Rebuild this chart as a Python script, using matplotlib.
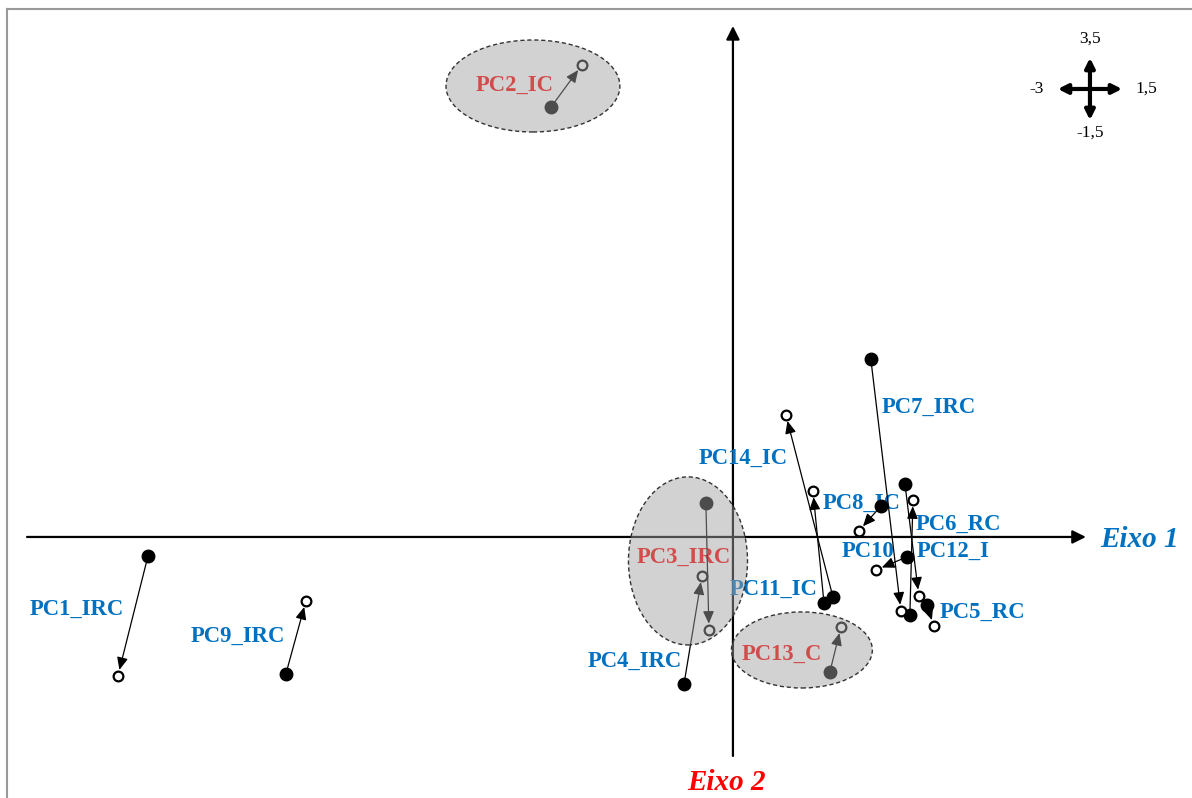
"""Trajectory diagram on the Eixo 1 / Eixo 2 plane (PC1..PC14, filled -> open)."""

import matplotlib
matplotlib.use('Agg')
import matplotlib.pyplot as plt
from matplotlib.patches import Ellipse

# start (filled) and end (open) positions on Eixo 1 / Eixo 2
NAMES = ['PC1_IRC', 'PC9_IRC', 'PC2_IC', 'PC3_IRC', 'PC4_IRC', 'PC13_C',
         'PC14_IC', 'PC11_IC', 'PC7_IRC', 'PC8_IC', 'PC6_RC', 'PC12_I',
         'PC10', 'PC5_RC']
X0 = [-2.486, -1.900, -0.773, -0.115, -0.208, 0.412,
      0.425, 0.387, 0.586, 0.629, 0.731, 0.752, 0.739, 0.824]
Y0 = [-0.130, -0.938, 2.945, 0.233, -1.007, -0.925,
      -0.411, -0.452, 1.219, 0.212, 0.363, -0.534, -0.137, -0.466]
X1 = [-2.614, -1.815, -0.642, -0.102, -0.132, 0.459,
      0.225, 0.340, 0.714, 0.535, 0.790, 0.765, 0.608, 0.854]
Y1 = [-0.952, -0.438, 3.233, -0.637, -0.267, -0.616,
      0.836, 0.315, -0.507, 0.041, -0.404, 0.253, -0.226, -0.610]

# label anchors (left, baseline)
LAB_X = [-2.988, -2.303, -1.092, -0.408, -0.616, 0.038,
         -0.144, -0.013, 0.633, 0.382, 0.778, 0.782, 0.463, 0.880]
LAB_Y = [-0.531, -0.716, 3.058, -0.175, -0.889, -0.840,
         0.500, -0.394, 0.853, 0.195, 0.051, -0.134, -0.134, -0.555]
RED_LABELS = {'PC2_IC', 'PC3_IRC', 'PC13_C'}

# grouping ellipses: centre x, centre y, width, height
ELL_X = [-0.850, -0.191, 0.293]
ELL_Y = [3.089, -0.164, -0.774]
ELL_W = [0.739, 0.506, 0.599]
ELL_H = [0.630, 1.151, 0.521]

AXIS_X = (-3.0, 1.5)
AXIS_Y = (-1.5, 3.5)
COMPASS = ['3,5', '-3', '1,5', '-1,5']

BLUE = '#0070C0'
SERIF = ['Liberation Serif', 'DejaVu Serif']

fig = plt.figure(figsize=(11.92, 7.98), dpi=100)
ax = fig.add_axes([0, 0, 1, 1])
ax.set_xlim(-3.115, 1.951)
ax.set_ylim(-1.788, 3.678)
ax.axis('off')

# frame (top + left only)
fig.add_artist(plt.Line2D([0.006, 1.0], [0.989, 0.989], color='#999999', lw=1.5))
fig.add_artist(plt.Line2D([0.006, 0.006], [0.0, 0.989], color='#999999', lw=1.5))

# main axes with arrow heads
ax.annotate('', xy=(AXIS_X[1], 0), xytext=(AXIS_X[0], 0),
            arrowprops=dict(arrowstyle='-|>', lw=1.6, color='k',
                            mutation_scale=20, shrinkA=0, shrinkB=0), zorder=1)
ax.annotate('', xy=(0, AXIS_Y[1]), xytext=(0, AXIS_Y[0]),
            arrowprops=dict(arrowstyle='-|>', lw=1.6, color='k',
                            mutation_scale=20, shrinkA=0, shrinkB=0), zorder=1)
ax.text(1.560, -0.068, 'Eixo 1', color=BLUE, fontsize=21, fontweight='bold',
        fontstyle='italic', family=SERIF, ha='left', va='baseline')
ax.text(-0.195, -1.733, 'Eixo 2', color='red', fontsize=21, fontweight='bold',
        fontstyle='italic', family=SERIF, ha='left', va='baseline')

# labels
for name, lx, ly in zip(NAMES, LAB_X, LAB_Y):
    c = 'red' if name in RED_LABELS else BLUE
    ax.text(lx, ly, name, color=c, fontsize=16.3, fontweight='bold',
            family=SERIF, ha='left', va='baseline', zorder=2)

# trajectories
for x0, y0, x1, y1 in zip(X0, Y0, X1, Y1):
    ax.annotate('', xy=(x1, y1), xytext=(x0, y0),
                arrowprops=dict(arrowstyle='-|>,head_length=0.5,head_width=0.22',
                                lw=0.9, color='k',
                                mutation_scale=15, shrinkA=0, shrinkB=4.5),
                zorder=3)
ax.plot(X0, Y0, 'o', ms=9, color='k', zorder=4, ls='none')
ax.plot(X1, Y1, 'o', ms=7, mfc='white', mec='k', mew=1.6, zorder=4, ls='none')

# semi-transparent grouping ellipses drawn over everything
for ex, ey, ew, eh in zip(ELL_X, ELL_Y, ELL_W, ELL_H):
    ax.add_patch(Ellipse((ex, ey), ew, eh, facecolor=(0.635, 0.635, 0.635, 0.475),
                         edgecolor='#333333', lw=1.0, ls=(0, (3, 2)), zorder=6))

# orientation compass (top right)
cx, cy, dx, dy = 0.9144, 0.8885, 0.027, 0.039
for tx, ty in [(cx, cy + dy), (cx - dx, cy), (cx + dx, cy), (cx, cy - dy)]:
    ax.annotate('', xy=(tx, ty), xytext=(cx, cy), xycoords='axes fraction',
                textcoords='axes fraction',
                arrowprops=dict(arrowstyle='-|>', lw=3, color='k',
                                mutation_scale=14, shrinkA=0, shrinkB=0))
off = [(0, 0.063), (-0.045, 0), (0.047, 0), (0, -0.055)]
for lab, (ox, oy) in zip(COMPASS, off):
    ax.text(cx + ox, cy + oy, lab, transform=ax.transAxes, fontsize=12.5,
            family=SERIF, ha='center', va='center')

fig.savefig('out.png', dpi=100)
